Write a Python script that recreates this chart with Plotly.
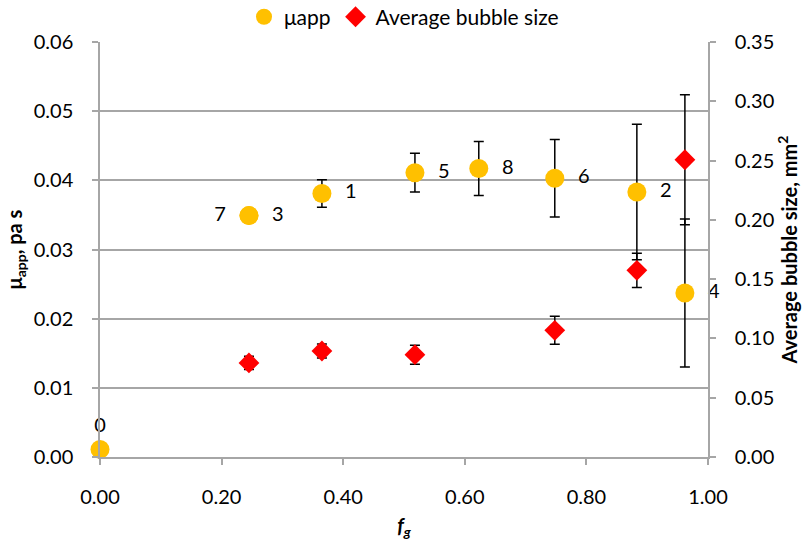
import plotly.graph_objects as go

# μapp data (points 7 and 3 overlap)
mu_labels = ["0", "7", "3", "1", "5", "8", "6", "2", "4"]
mu_fg = [0.0, 0.245, 0.245, 0.365, 0.518, 0.623, 0.748, 0.883, 0.962]
mu_app = [0.0011, 0.0349, 0.0349, 0.0381, 0.0411, 0.0417, 0.0403, 0.0383, 0.0237]
mu_err = [0.0, 0.0, 0.0, 0.0020, 0.0028, 0.0039, 0.0056, 0.0098, 0.0107]
mu_textpos = ["top center", "middle left", "middle right", "middle right", "middle right",
              "middle right", "middle right", "middle right", "middle right"]

# Average bubble size data
bub_fg = [0.245, 0.365, 0.518, 0.748, 0.883, 0.962]
bub_size = [0.0793, 0.0894, 0.0863, 0.1068, 0.1574, 0.2507]
bub_err = [0.0056, 0.0060, 0.0080, 0.0118, 0.0145, 0.0548]

x_ticks = [0.0, 0.2, 0.4, 0.6, 0.8, 1.0]
y1_ticks = [0.0, 0.01, 0.02, 0.03, 0.04, 0.05, 0.06]
y2_ticks = [0.0, 0.05, 0.10, 0.15, 0.20, 0.25, 0.30, 0.35]

FONT = "Lato"
GRID = "#a6a6a6"
TICKSIZE = 20

fig = go.Figure()
fig.add_trace(go.Scatter(
    x=mu_fg, y=mu_app, name="μapp", mode="markers+text",
    text=["  " + t + "  " if p != "top center" else t for t, p in zip(mu_labels, mu_textpos)],
    textposition=mu_textpos, cliponaxis=False,
    textfont=dict(family=FONT, size=TICKSIZE, color="black"),
    marker=dict(symbol="circle", size=19, color="#FFC000"),
    error_y=dict(type="data", array=mu_err, visible=True, color="black", thickness=1.5, width=5),
    yaxis="y",
))
fig.add_trace(go.Scatter(
    x=bub_fg, y=bub_size, name="Average bubble size", mode="markers", cliponaxis=False,
    marker=dict(symbol="diamond", size=16, color="#FF0000"),
    error_y=dict(type="data", array=bub_err, visible=True, color="black", thickness=1.5, width=5),
    yaxis="y2",
))

axis_common = dict(
    zeroline=False, showline=True, linecolor=GRID, linewidth=1.5,
    ticks="outside", tickcolor=GRID, ticklen=6, tickwidth=1.5,
    tickfont=dict(family=FONT, size=TICKSIZE), ticklabelstandoff=15,
)

fig.update_layout(
    width=812, height=543,
    margin=dict(l=100, r=104, t=42, b=86, autoexpand=False),
    paper_bgcolor="white", plot_bgcolor="white",
    font=dict(family=FONT, size=TICKSIZE, color="black"),
    showlegend=True,
    legend=dict(orientation="h", x=0.5, xanchor="center", y=1.06, yanchor="middle",
                yref="paper", font=dict(family=FONT, size=21), itemsizing="trace",
                bgcolor="rgba(0,0,0,0)"),
    xaxis=dict(
        range=[0, 1], tickvals=x_ticks, ticktext=[f"{v:.2f}" for v in x_ticks],
        showgrid=False, **axis_common,
        title=dict(text="<b><i>f<sub>g</sub></i></b>", font=dict(family=FONT, size=20), standoff=12),
    ),
    yaxis=dict(
        range=[0, 0.06], tickvals=y1_ticks, ticktext=[f"{v:.2f}" for v in y1_ticks],
        showgrid=True, gridcolor=GRID, gridwidth=1.5, **axis_common,
        title=dict(text="<b>μ<sub>app</sub>, pa s</b>", font=dict(family=FONT, size=20), standoff=6),
    ),
    yaxis2=dict(
        range=[0, 0.35], tickvals=y2_ticks, ticktext=[f"{v:.2f}" for v in y2_ticks],
        overlaying="y", side="right", showgrid=False, **axis_common,
        title=dict(text="<b>Average bubble size, mm<sup>2</sup></b>", font=dict(family=FONT, size=20), standoff=8),
    ),
)

fig.write_html("out.html", config={"displayModeBar": False},
               post_script="document.body.style.margin='0';")
